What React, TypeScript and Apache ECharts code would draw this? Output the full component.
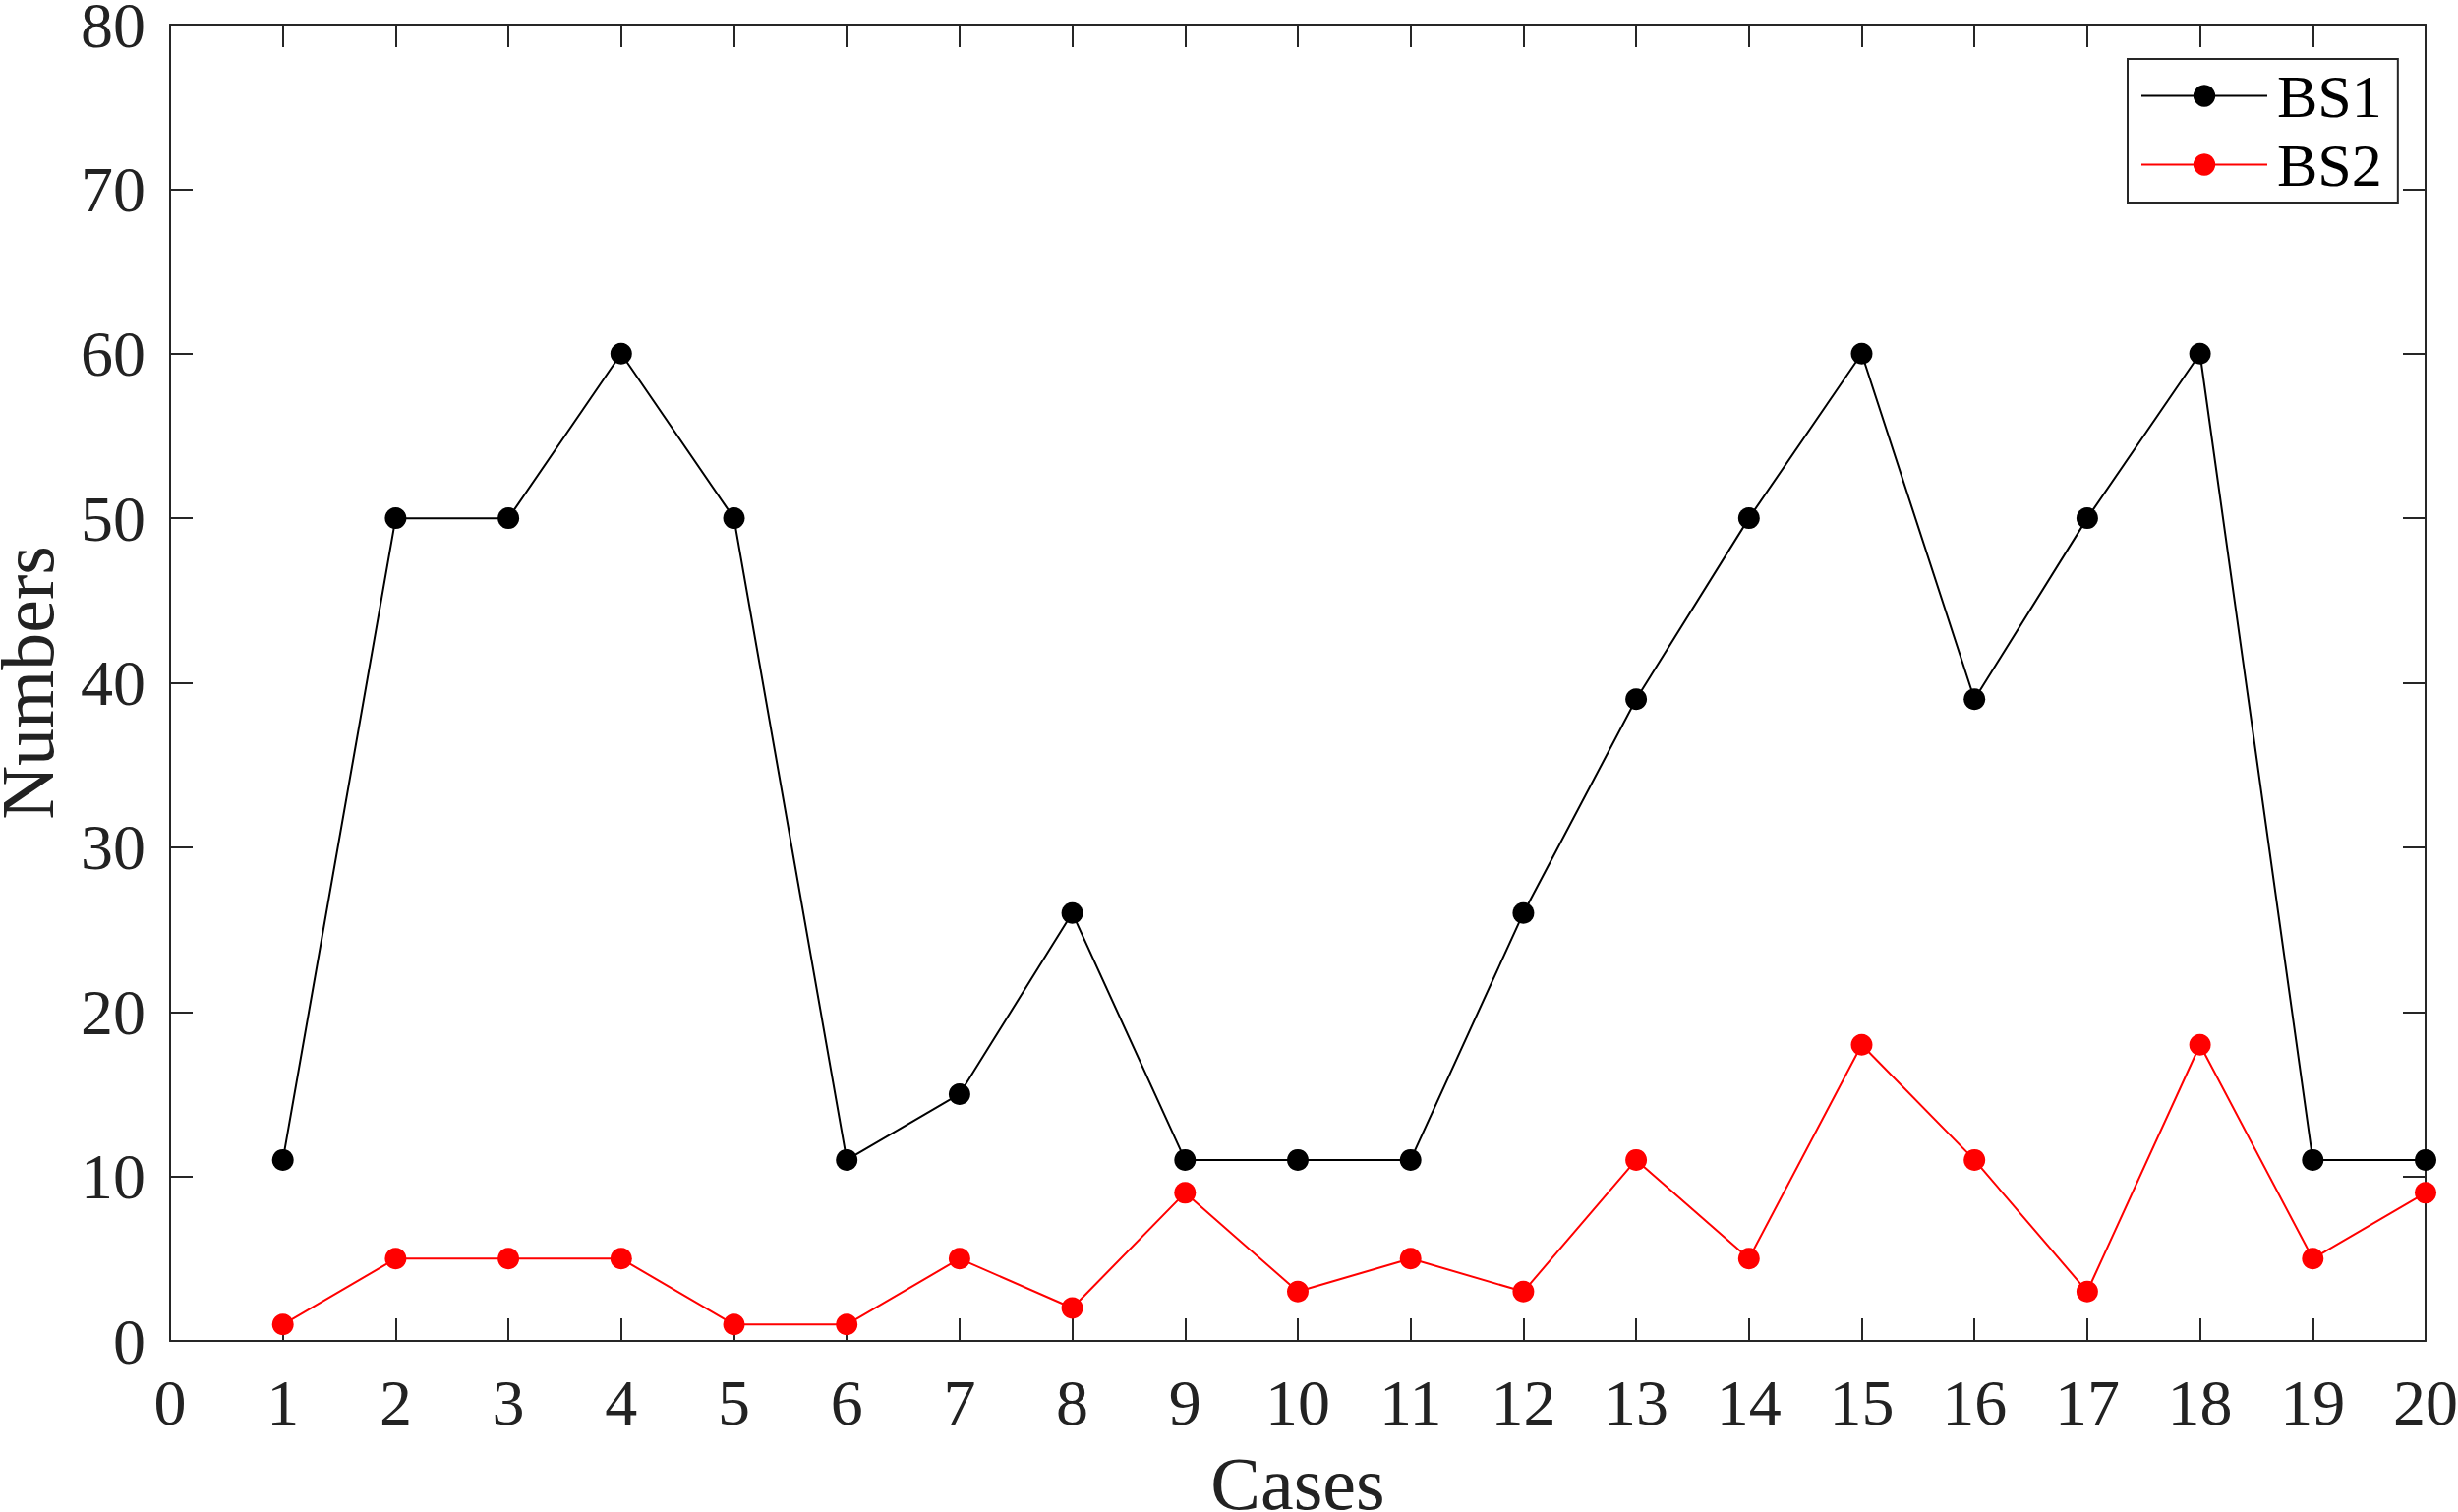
import React, { useEffect, useRef } from "react";
import * as echarts from "echarts";

const cases = [1, 2, 3, 4, 5, 6, 7, 8, 9, 10, 11, 12, 13, 14, 15, 16, 17, 18, 19, 20];
const bs1 = [11, 50, 50, 60, 50, 11, 15, 26, 11, 11, 11, 26, 39, 50, 60, 39, 50, 60, 11, 11];
const bs2 = [1, 5, 5, 5, 1, 1, 5, 2, 9, 3, 5, 3, 11, 5, 18, 11, 3, 18, 5, 9];
const seriesNames = ["BS1", "BS2"];
const seriesColors = ["#000000", "#ff0000"];

const FONT = "Liberation Serif";
const AXIS = "#262626";

export default function App() {
  const ref = useRef<HTMLDivElement>(null);
  useEffect(() => {
    const chart = echarts.init(ref.current!, undefined, { renderer: "svg" });
    const mk = (vals: number[]) => cases.map((c, i) => [c, vals[i]]);
    const axisCommon = {
      type: "value" as const,
      axisLine: { show: true, onZero: false, lineStyle: { color: AXIS, width: 2 } },
      axisTick: { show: true, inside: true, length: 23, lineStyle: { color: AXIS, width: 2 } },
      splitLine: { show: false },
    };
    chart.setOption({
      animation: false,
      backgroundColor: "#ffffff",
      grid: {
        left: 173,
        top: 25,
        right: 33,
        bottom: 174,
        containLabel: false,
        outerBoundsMode: "none",
      },
      legend: {
        left: 2164,
        top: 60,
        orient: "vertical",
        data: seriesNames,
        itemWidth: 128,
        itemHeight: 28,
        itemGap: 5,
        padding: [5, 16, 6, 13],
        borderColor: AXIS,
        borderWidth: 2,
        backgroundColor: "#ffffff",
        textStyle: { fontFamily: FONT, fontSize: 62, color: "#000", lineHeight: 65, padding: [0, 0, 0, 5] },
      },
      xAxis: [
        {
          ...axisCommon,
          min: 0,
          max: 20,
          interval: 1,
          position: "bottom",
          name: "Cases",
          nameLocation: "middle",
          nameGap: 117,
          nameTextStyle: { fontFamily: FONT, fontSize: 76, lineHeight: 56, color: "#222" },
          axisLabel: { fontFamily: FONT, fontSize: 66, color: "#222", margin: 29 },
        },
        {
          ...axisCommon,
          min: 0,
          max: 20,
          interval: 1,
          position: "top",
          axisLabel: { show: false },
        },
      ],
      yAxis: [
        {
          ...axisCommon,
          min: 0,
          max: 80,
          interval: 10,
          position: "left",
          name: "Numbers",
          nameLocation: "middle",
          nameGap: 117,
          nameTextStyle: { fontFamily: FONT, fontSize: 76, lineHeight: 56, color: "#222" },
          axisLabel: { fontFamily: FONT, fontSize: 66, lineHeight: 48, color: "#222", margin: 25 },
        },
        {
          ...axisCommon,
          min: 0,
          max: 80,
          interval: 10,
          position: "right",
          axisLabel: { show: false },
        },
      ],
      series: [
        {
          name: seriesNames[0],
          type: "line",
          data: mk(bs1),
          symbol: "circle",
          symbolSize: 22,
          itemStyle: { color: seriesColors[0] },
          lineStyle: { color: seriesColors[0], width: 2 },
        },
        {
          name: seriesNames[1],
          type: "line",
          data: mk(bs2),
          symbol: "circle",
          symbolSize: 22,
          itemStyle: { color: seriesColors[1] },
          lineStyle: { color: seriesColors[1], width: 2 },
        },
      ],
    });
    return () => chart.dispose();
  }, []);
  return (
    <div
      ref={ref}
      style={{ position: "fixed", left: 0, top: 0, width: 2500, height: 1538, background: "#fff" }}
    />
  );
}
